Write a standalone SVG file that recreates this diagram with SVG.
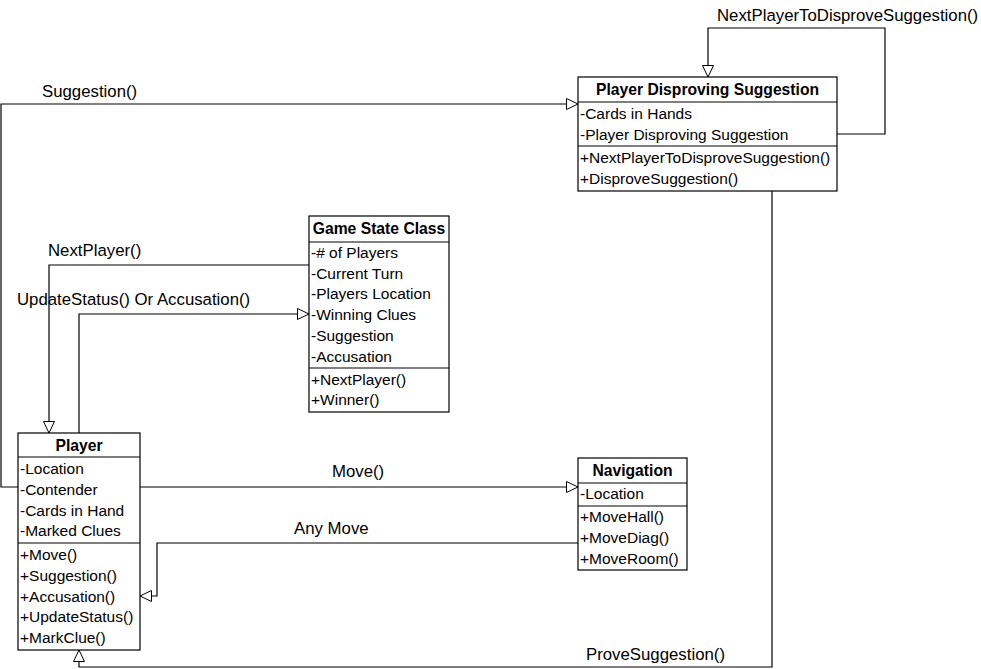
<svg xmlns="http://www.w3.org/2000/svg" width="981" height="669" viewBox="0 0 981 669">
<style>
text{font-family:"Liberation Sans",Arial,sans-serif;font-size:15.5px;fill:#000}
.t{font-weight:bold;text-anchor:middle;font-size:15.7px}
.lbl{font-size:16.8px}
.box{fill:#fff;stroke:#000;stroke-width:1.2}
.div{stroke:#000;stroke-width:1.2}
.c{fill:none;stroke:#000;stroke-width:1.2}
</style>
<defs>
<marker id="tri" markerUnits="userSpaceOnUse" markerWidth="14" markerHeight="14" refX="12" refY="6" orient="auto">
<path d="M0.5,0.5 L12,6 L0.5,11.5 z" fill="#fff" stroke="#000" stroke-width="1"/>
</marker>
</defs>
<rect width="981" height="669" fill="#fff"/>
<g id="connectors">
<path class="c" d="M18,487 H1 V104 H578" marker-end="url(#tri)"/>
<path class="c" d="M309,265 H49 V433" marker-end="url(#tri)"/>
<path class="c" d="M79,433 V314 H309" marker-end="url(#tri)"/>
<path class="c" d="M140,487 H578" marker-end="url(#tri)"/>
<path class="c" d="M578,543 H157 V596 H140" marker-end="url(#tri)"/>
<path class="c" d="M772,191 V667 H79 V650" marker-end="url(#tri)"/>
<path class="c" d="M837,134 H885 V28 H708 V77" marker-end="url(#tri)"/>
<text class="lbl" x="717" y="21">NextPlayerToDisproveSuggestion()</text>
<text class="lbl" x="42" y="97">Suggestion()</text>
<text class="lbl" x="48" y="256">NextPlayer()</text>
<text class="lbl" x="17" y="305">UpdateStatus() Or Accusation()</text>
<text class="lbl" x="332" y="477">Move()</text>
<text class="lbl" x="294" y="534">Any Move</text>
<text class="lbl" x="586" y="660">ProveSuggestion()</text>
</g>
<g id="pds">
<rect class="box" x="578" y="77" width="259" height="114"/>
<line class="div" x1="578" y1="102" x2="837" y2="102"/>
<line class="div" x1="578" y1="146" x2="837" y2="146"/>
<text class="t" x="707.5" y="95">Player Disproving Suggestion</text>
<text x="580" y="119">-Cards in Hands</text>
<text x="580" y="140">-Player Disproving Suggestion</text>
<text x="580" y="163">+NextPlayerToDisproveSuggestion()</text>
<text x="580" y="184">+DisproveSuggestion()</text>
</g>
<g id="gamestate">
<rect class="box" x="309" y="216" width="140" height="196"/>
<line class="div" x1="309" y1="242" x2="449" y2="242"/>
<line class="div" x1="309" y1="368" x2="449" y2="368"/>
<text class="t" x="379" y="234">Game State Class</text>
<text x="311" y="258">-# of Players</text>
<text x="311" y="279">-Current Turn</text>
<text x="311" y="299">-Players Location</text>
<text x="311" y="320">-Winning Clues</text>
<text x="311" y="341">-Suggestion</text>
<text x="311" y="362">-Accusation</text>
<text x="311" y="385">+NextPlayer()</text>
<text x="311" y="405">+Winner()</text>
</g>
<g id="player">
<rect class="box" x="18" y="433" width="122" height="217"/>
<line class="div" x1="18" y1="457" x2="140" y2="457"/>
<line class="div" x1="18" y1="543" x2="140" y2="543"/>
<text class="t" x="79" y="451">Player</text>
<text x="20" y="474">-Location</text>
<text x="20" y="495">-Contender</text>
<text x="20" y="516">-Cards in Hand</text>
<text x="20" y="536">-Marked Clues</text>
<text x="20" y="560">+Move()</text>
<text x="20" y="581">+Suggestion()</text>
<text x="20" y="602">+Accusation()</text>
<text x="20" y="622">+UpdateStatus()</text>
<text x="20" y="643">+MarkClue()</text>
</g>
<g id="navigation">
<rect class="box" x="578" y="458" width="109" height="112"/>
<line class="div" x1="578" y1="483" x2="687" y2="483"/>
<line class="div" x1="578" y1="506" x2="687" y2="506"/>
<text class="t" x="632.5" y="476">Navigation</text>
<text x="580" y="499">-Location</text>
<text x="580" y="522">+MoveHall()</text>
<text x="580" y="543">+MoveDiag()</text>
<text x="580" y="564">+MoveRoom()</text>
</g>
</svg>
